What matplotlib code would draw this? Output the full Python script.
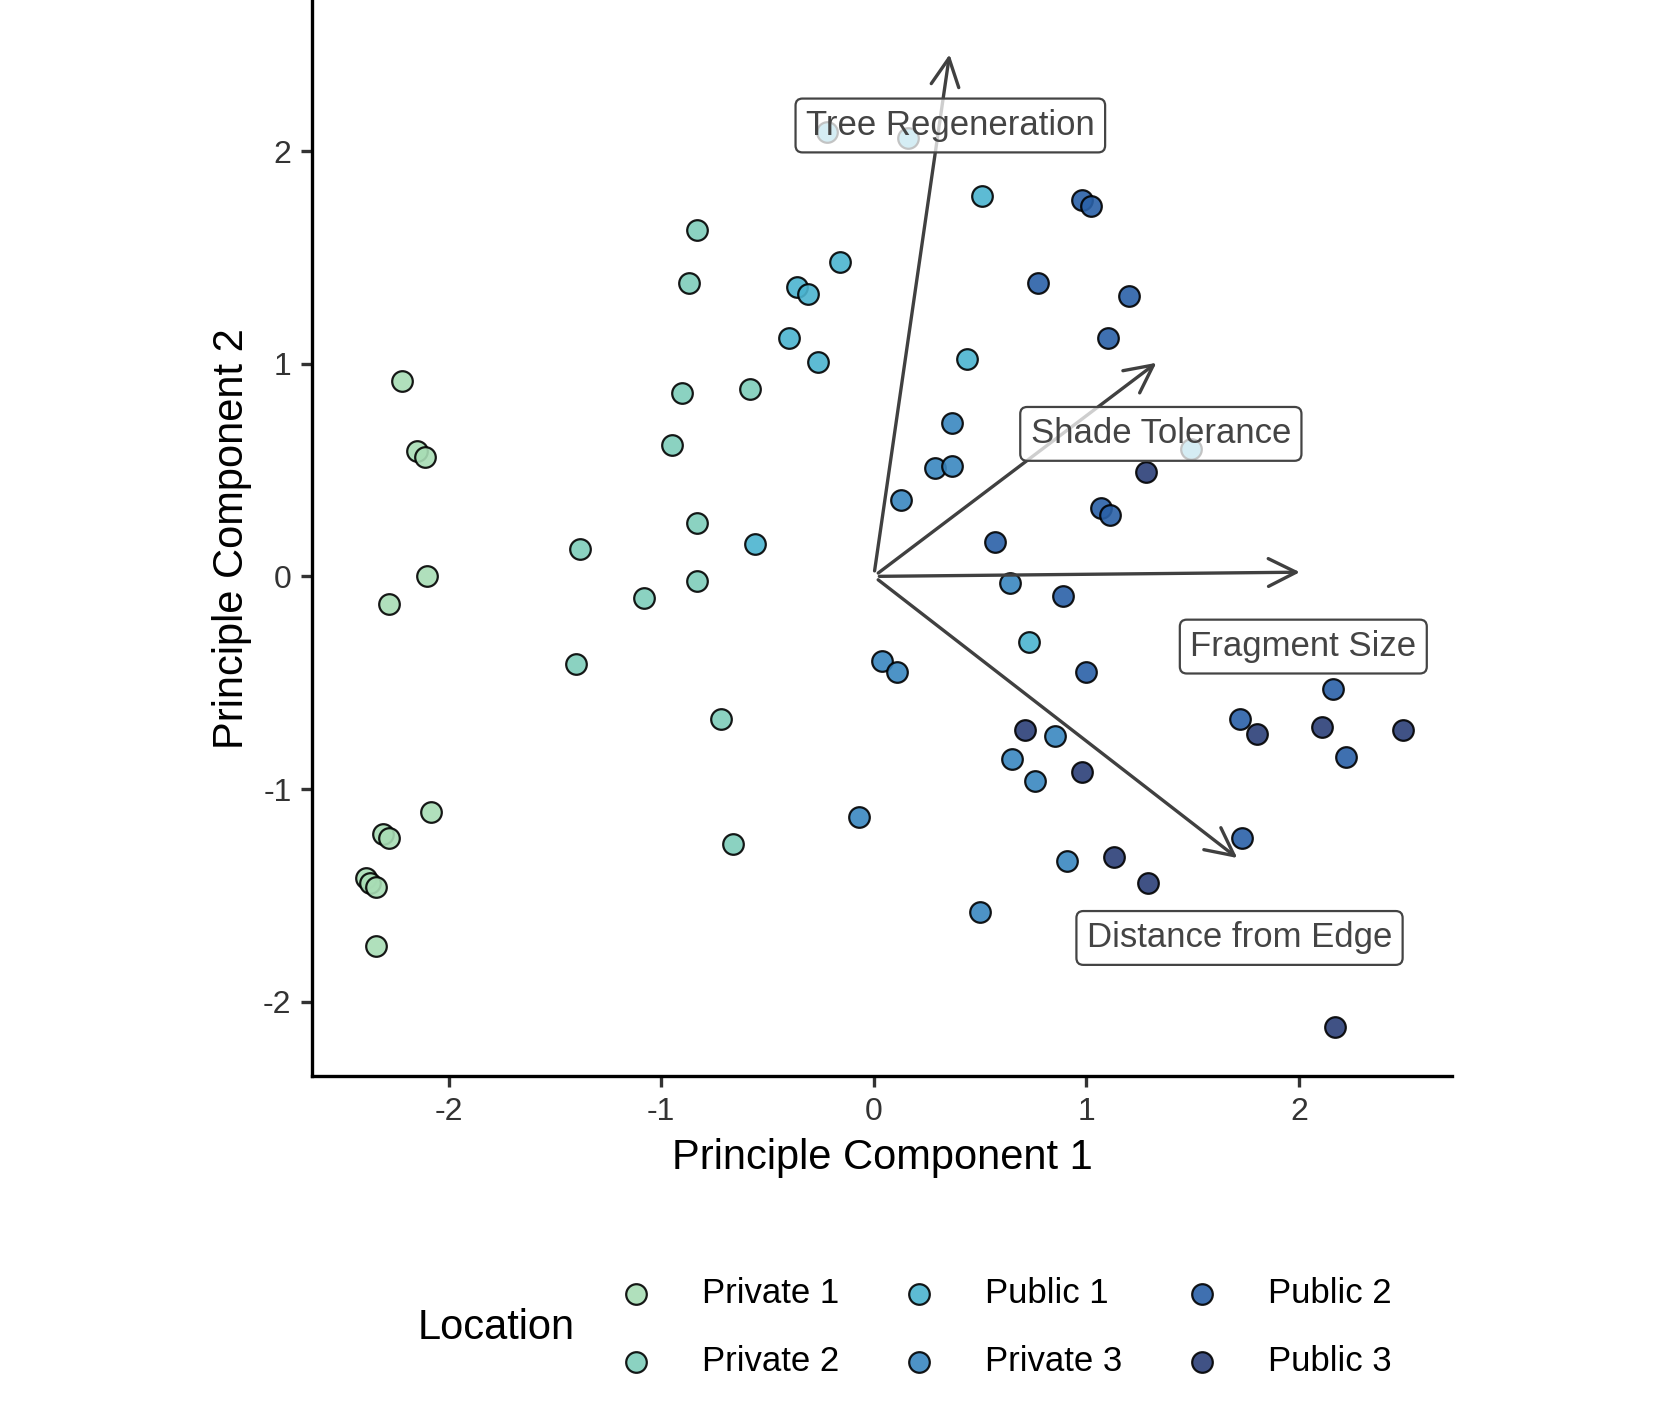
import matplotlib
matplotlib.use("Agg")
import matplotlib.pyplot as plt
plt.rcParams['font.family'] = ['Liberation Sans', 'DejaVu Sans']

groups = ["Private 1", "Private 2", "Public 1", "Private 3", "Public 2", "Public 3"]
colors = ["#a8ddb5", "#7fcdbb", "#4bb4d0", "#3a87c0", "#2a61a8", "#2b3f78"]
pts = {
 "Private 1": ([-2.22,-2.15,-2.11,-2.10,-2.28,-2.08,-2.31,-2.28,-2.39,-2.37,-2.34,-2.34],
               [0.92,0.59,0.56,0.0,-0.13,-1.11,-1.21,-1.23,-1.42,-1.44,-1.46,-1.74]),
 "Private 2": ([-0.83,-0.87,-0.90,-0.58,-0.95,-0.83,-1.38,-0.83,-1.08,-1.40,-0.72,-0.66],
               [1.63,1.38,0.86,0.88,0.62,0.25,0.13,-0.02,-0.10,-0.41,-0.67,-1.26]),
 "Public 1": ([-0.22,0.16,0.51,-0.16,-0.36,-0.31,-0.40,-0.26,0.44,-0.56,0.73,1.49],
              [2.09,2.06,1.79,1.48,1.36,1.33,1.12,1.01,1.02,0.15,-0.31,0.60]),
 "Private 3": ([0.37,0.29,0.37,0.13,0.64,0.04,0.11,0.65,0.85,0.76,-0.07,0.91,0.50],
               [0.72,0.51,0.52,0.36,-0.03,-0.40,-0.45,-0.86,-0.75,-0.96,-1.13,-1.34,-1.58]),
 "Public 2": ([0.98,1.02,0.77,1.20,1.10,1.07,1.11,0.57,0.89,1.00,2.16,2.22,1.72,1.73],
              [1.77,1.74,1.38,1.32,1.12,0.32,0.29,0.16,-0.09,-0.45,-0.53,-0.85,-0.67,-1.23]),
 "Public 3": ([1.28,0.71,0.98,1.13,1.29,1.80,2.11,2.49,2.17],
              [0.49,-0.72,-0.92,-1.32,-1.44,-0.74,-0.71,-0.72,-2.12]),
}
vars_ = ["Tree Regeneration", "Shade Tolerance", "Fragment Size", "Distance from Edge"]
arrow_x = [0.36, 1.35, 2.03, 1.73]
arrow_y = [2.48, 1.02, 0.02, -1.34]
label_x = [0.36, 1.35, 2.02, 1.72]
label_y = [2.12, 0.67, -0.33, -1.70]

fig = plt.figure(figsize=(8.265, 7.085), dpi=200)
ax = fig.add_axes([0.189, 0.2405, 0.6895, 0.7595])
for g, c in zip(groups, colors):
    x, y = pts[g]
    ax.scatter(x, y, s=55, c=c, edgecolors="black", linewidths=0.8, alpha=0.9, label=g, zorder=2)
for ax_, ay_ in zip(arrow_x, arrow_y):
    ax.annotate("", xy=(ax_, ay_), xytext=(0, 0),
                arrowprops=dict(arrowstyle="->,head_length=1.0,head_width=0.5", color="#404040", lw=1.2), zorder=3)
for t, lx, ly in zip(vars_, label_x, label_y):
    ax.text(lx, ly, t, ha="center", va="center", fontsize=12.5, color="#444444", zorder=4,
            bbox=dict(boxstyle="round,pad=0.3,rounding_size=0.2", fc=(1, 1, 1, 0.75), ec="#444444", lw=0.8))
ax.set_xlim(-2.64, 2.72)
ax.set_ylim(-2.35, 2.71)
ax.set_xticks([-2, -1, 0, 1, 2])
ax.set_yticks([-2, -1, 0, 1, 2])
ax.set_xticklabels(["-2", "-1", "0", "1", "2"])
ax.set_yticklabels(["-2", "-1", "0", "1", "2"])
ax.tick_params(labelsize=11.5, colors="#333333", width=1.2, length=4)
for s in ["top", "right"]:
    ax.spines[s].set_visible(False)
for s in ["left", "bottom"]:
    ax.spines[s].set_linewidth(1.2)
ax.set_xlabel("Principle Component 1", fontsize=15)
ax.set_ylabel("Principle Component 2", fontsize=15)

leg = fig.legend(loc="center", bbox_to_anchor=(0.603, 0.063), ncol=3, frameon=False,
                 fontsize=12.5, columnspacing=1.3, handletextpad=0.9, labelspacing=1.0)
fig.text(0.30, 0.063, "Location", fontsize=15, ha="center", va="center")
fig.savefig("out.png", dpi=200)
